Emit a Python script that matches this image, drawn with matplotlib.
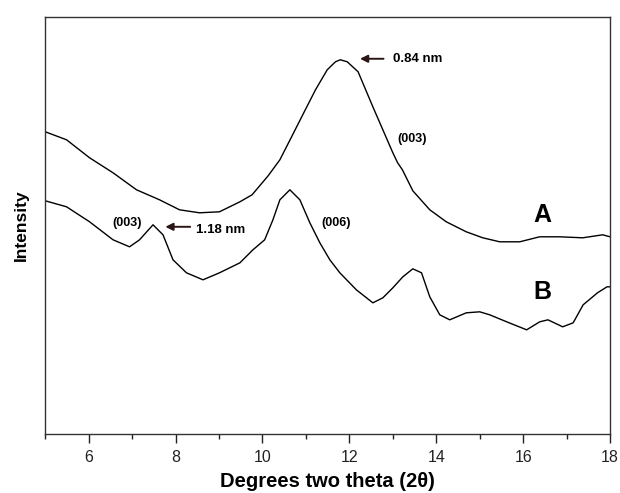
import matplotlib.pyplot as plt

plt.rcParams['font.family'] = ['Liberation Sans', 'DejaVu Sans']

# XRD patterns (intensity in arbitrary units)
two_theta_a = [5.00, 5.49, 6.02, 6.56, 7.10, 7.63, 8.09, 8.55, 9.01, 9.48, 9.76, 10.13,
               10.40, 10.67, 10.95, 11.22, 11.49, 11.68, 11.79, 11.95, 12.20, 12.54, 12.77,
               13.00, 13.11, 13.22, 13.46, 13.85, 14.23, 14.69, 15.07, 15.46, 15.92, 16.38,
               16.84, 17.37, 17.83, 18.00]
intensity_a = [302, 294, 276, 261, 244, 234, 224, 221, 222, 232, 239, 258,
               274, 297, 321, 344, 364, 372, 374, 372, 362, 327, 304,
               281, 271, 264, 243, 224, 212, 202, 196, 192, 192, 197,
               197, 196, 199, 197]

two_theta_b = [5.00, 5.49, 6.02, 6.56, 6.94, 7.17, 7.48, 7.71, 7.94, 8.25, 8.63, 9.01,
               9.48, 9.78, 10.05, 10.24, 10.40, 10.63, 10.86, 11.09, 11.32, 11.55, 11.78,
               12.16, 12.54, 12.77, 13.00, 13.23, 13.46, 13.66, 13.85, 14.08, 14.31, 14.69,
               15.00, 15.23, 15.62, 16.08, 16.38, 16.57, 16.91, 17.15, 17.38, 17.71, 17.93,
               18.00]
intensity_b = [233, 227, 212, 194, 187, 194, 209, 199, 174, 161, 154, 161,
               171, 184, 194, 214, 234, 244, 234, 211, 191, 174, 161,
               144, 131, 136, 146, 157, 165, 161, 137, 119, 114, 121,
               122, 119, 112, 104, 112, 114, 107, 111, 129, 141, 147,
               147]

xticks = [6, 8, 10, 12, 14, 16, 18]

fig = plt.figure(figsize=(6.2, 4.93), dpi=100)
ax = fig.add_axes([0.073, 0.12, 0.911, 0.846])

ax.plot(two_theta_a, intensity_a, color='black', lw=1.0)
ax.plot(two_theta_b, intensity_b, color='black', lw=1.0)

ax.set_xlim(5, 18)
ax.set_ylim(0, 417)
ax.set_xticks(xticks)
ax.set_xticks(range(5, 19), minor=True)
ax.set_yticks([])
ax.tick_params(axis='x', which='major', direction='out', length=6.5, width=1.0,
               pad=5, labelsize=11.5, colors='#222222')
ax.tick_params(axis='x', which='minor', direction='out', length=3.4, width=1.0,
               colors='#222222')
for s in ax.spines.values():
    s.set_linewidth(1.0)
    s.set_color('#333333')

ax.set_xlabel('Degrees two theta (2θ)', fontsize=14.5, fontweight='bold', labelpad=5)
ax.set_ylabel('Intensity', fontsize=12.5, fontweight='bold', labelpad=12)

arrow = dict(arrowstyle='-|>', color='#2b1616', lw=1.4, mutation_scale=11)
ax.annotate('', xy=(12.18, 375), xytext=(12.85, 375), arrowprops=arrow)
ax.text(13.0, 375, '0.84 nm', fontsize=9.5, fontweight='bold', va='center')
ax.annotate('', xy=(7.70, 207), xytext=(8.40, 207), arrowprops=arrow)
ax.text(8.46, 204, '1.18 nm', fontsize=9.5, fontweight='bold', va='center')

ax.text(13.1, 295, '(003)', fontsize=9, fontweight='bold', va='center')
ax.text(6.55, 211, '(003)', fontsize=9, fontweight='bold', va='center')
ax.text(11.36, 211, '(006)', fontsize=9, fontweight='bold', va='center')

ax.text(16.45, 219, 'A', fontsize=18, fontweight='bold', ha='center', va='center')
ax.text(16.45, 142, 'B', fontsize=18, fontweight='bold', ha='center', va='center')

fig.savefig('out.png', dpi=100)
